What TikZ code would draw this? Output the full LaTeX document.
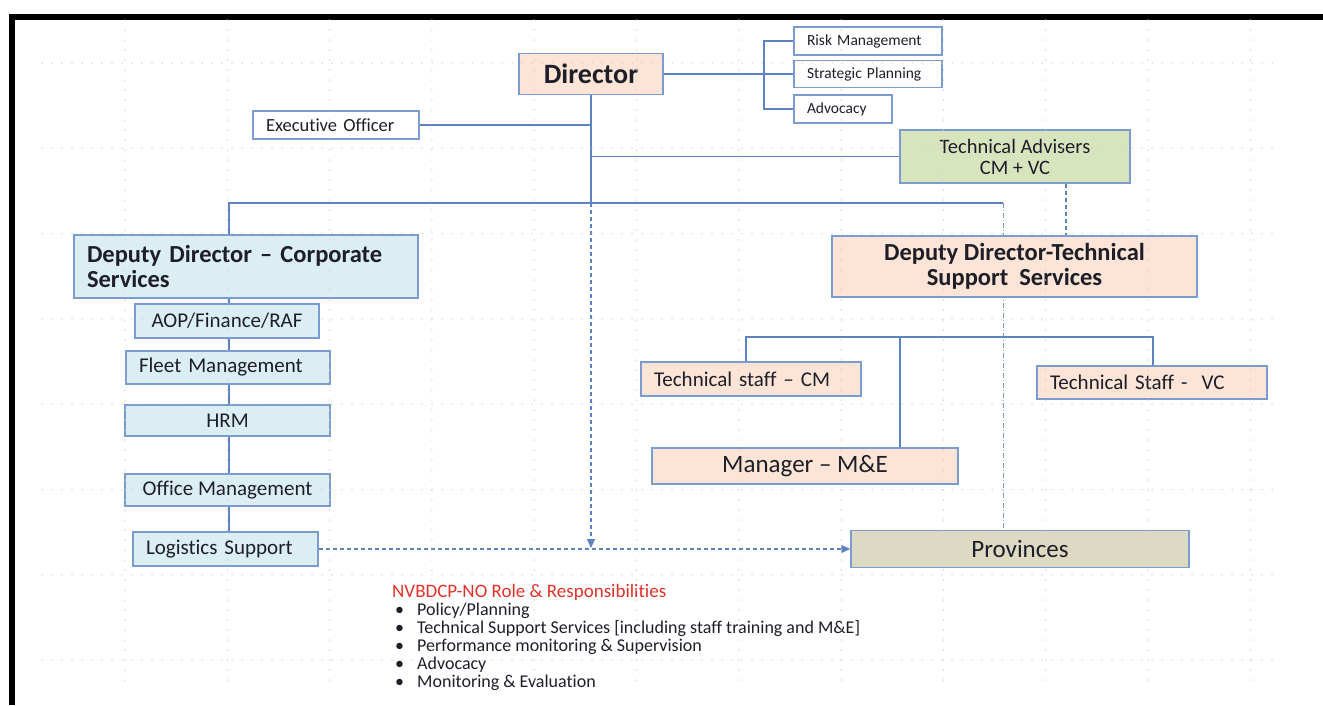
\documentclass[tikz,border=0pt]{standalone}
\usepackage{fontspec}
\setmainfont{Carlito}[Ligatures=NoCommon]
\usetikzlibrary{calc, arrows.meta, backgrounds}
\definecolor{boxline}{RGB}{122,156,206}
\definecolor{connline}{RGB}{91,132,192}
\definecolor{peach}{RGB}{252,228,214}
\definecolor{lblue}{RGB}{218,238,243}
\definecolor{lgreen}{RGB}{215,228,189}
\definecolor{khaki}{RGB}{221,217,195}
\definecolor{redtxt}{RGB}{225,50,40}
\definecolor{txt}{RGB}{30,30,40}

\begin{document}
\begin{tikzpicture}[x=1pt, y=-1pt,
box/.style = {% org chart boxes
    draw=boxline, line width=1.5pt, inner sep=0pt, text=txt,
            },
lt/.style = {align=left, inner xsep=13pt},
fs/.style = {font=\fontsize{15.5}{18}\selectfont},
fm/.style = {font=\fontsize{21}{24}\selectfont},
fb/.style = {font=\fontsize{24.5}{25}\selectfont\bfseries},
conn/.style = {draw=connline, line width=1.6pt},
dconn/.style = {draw=connline, line width=1.3pt, dash pattern=on 4pt off 3pt},
griddot/.style = {gray!40, line width=1.5pt, line cap=round, dash pattern=on 0pt off 10pt},
                        ]
\useasboundingbox (0,0) rectangle (1323,705);
% frame
\draw[line width=6pt] (12,705) -- (12,17) -- (1323,17);
% top
\node[box, fill=peach, minimum width=144pt, minimum height=41pt,
      font=\fontsize{28}{30}\selectfont\bfseries] (dir) at (591,74) {Director};
\node[box, fs, lt, text width=122pt, minimum height=28pt] (risk) at (868,41) {Risk Management};
\node[box, fs, lt, text width=122pt, minimum height=27pt] (strat) at (868,74) {Strategic Planning};
\node[box, fs, lt, text width=72pt, minimum height=28pt] (adv) at (843,109) {Advocacy};
\node[box, lt, text width=140pt, minimum height=28pt,
      font=\fontsize{18.5}{20}\selectfont] (exec) at (336,125) {Executive Officer};
\node[box, fill=lgreen, minimum width=230pt, minimum height=53pt, align=center,
      font=\fontsize{20.5}{21}\selectfont] (tadv) at (1015,156.5) {Technical Advisers\\CM + VC};
% deputies
\node[box, fb, lt, fill=lblue, text width=318pt, minimum height=63pt] (ddc) at (246,266.5)
      {Deputy Director -- Corporate\\Services};
\node[box, fb, fill=peach, minimum width=365pt, minimum height=61pt, align=center] (ddt) at (1014.5,266.5)
      {Deputy Director-Technical\\Support~ Services};
% corporate column
\node[box, fm, fill=lblue, minimum width=184pt, minimum height=34pt] (aop) at (227,321) {AOP/Finance/RAF};
\node[box, fm, lt, fill=lblue, text width=178pt, minimum height=33pt] (fleet) at (228,367.5) {Fleet Management};
\node[box, fm, fill=lblue, minimum width=205pt, minimum height=31pt] (hrm) at (227.5,420.5) {HRM};
\node[box, fm, fill=lblue, minimum width=205pt, minimum height=32pt] (office) at (227.5,490) {Office Management};
\node[box, fm, lt, fill=lblue, text width=159pt, minimum height=34pt] (logi) at (225.5,549) {Logistics Support};
% technical side
\node[box, fm, lt, fill=peach, text width=194pt, minimum height=34pt] (tscm) at (751,379) {Technical staff -- CM};
\node[box, fm, lt, fill=peach, text width=204pt, minimum height=33pt] (tsvc) at (1152,382.5) {Technical Staff -~ VC};
\node[box, fill=peach, minimum width=306pt, minimum height=36pt,
      font=\fontsize{25}{27}\selectfont] (mgr) at (805,466) {Manager -- M\&E};
\node[box, fill=khaki, minimum width=338pt, minimum height=37pt,
      font=\fontsize{25}{27}\selectfont] (prov) at (1020,549) {Provinces};
% roles
\node[anchor=north west, inner sep=0pt, align=left, text=txt,
      font=\fontsize{18}{18}\selectfont] (roles) at (392,584)
      {{\fontsize{19}{19}\selectfont\color{redtxt}NVBDCP-NO Role \& Responsibilities}\\
       \hspace*{3pt}\makebox[22pt][l]{•}Policy/Planning\\
       \hspace*{3pt}\makebox[22pt][l]{•}Technical Support Services [including staff training and M\&E]\\
       \hspace*{3pt}\makebox[22pt][l]{•}Performance monitoring \& Supervision\\
       \hspace*{3pt}\makebox[22pt][l]{•}Advocacy\\
       \hspace*{3pt}\makebox[22pt][l]{•}Monitoring \& Evaluation};
% connectors
\coordinate (hub) at (591,203);
\coordinate (lbus) at (229,203);
\coordinate (rbus) at (1003,203);
\coordinate (dirend) at (591,548);
\coordinate (tl) at (746,337);
\coordinate (tm) at (900,337);
\coordinate (tr) at (1153,337);
\begin{scope}[on background layer]
\draw[conn] (dir.east) -- (strat.west);
\draw[conn] (risk.west) -- ++(-29,0) |- (adv.west);
\draw[conn] (exec.east) -- (exec.east -| dir.south);
\draw[conn] (dir.south) -- (hub);
\draw[conn] (hub |- tadv.west) -- (tadv.west);
\draw[dconn] ([xshift=51pt]tadv.south) -- ([xshift=51pt]tadv.south |- ddt.north);
\draw[conn] (lbus |- ddc.north) -- (lbus) -- (rbus);
\draw[dconn, boxline, dash pattern=on 5pt off 2pt on 1pt off 2pt, line width=1pt] (rbus) -- (rbus |- prov.north);
\draw[dconn, -{Triangle[length=9pt,width=8pt]}] (hub) -- (dirend);
\draw[conn] (lbus |- ddc.south) -- (lbus |- logi.north);
\draw[dconn, -{Triangle[length=9pt,width=8pt]}] (logi.east) -- (prov.west);
\draw[conn] (tl |- tscm.north) -- (tl) -- (tr) -- (tr |- tsvc.north);
\draw[conn] (tm) -- (tm |- mgr.north);
\end{scope}
% dotted grid
\foreach \i in {0,...,11}{\draw[griddot] ({125+102.3*\i},20) -- ++(0,670);}
\foreach \j in {0,...,7}{\draw[griddot] (42,{63+85.3*\j}) -- (1275,{63+85.3*\j});}
\end{tikzpicture}
\end{document}
